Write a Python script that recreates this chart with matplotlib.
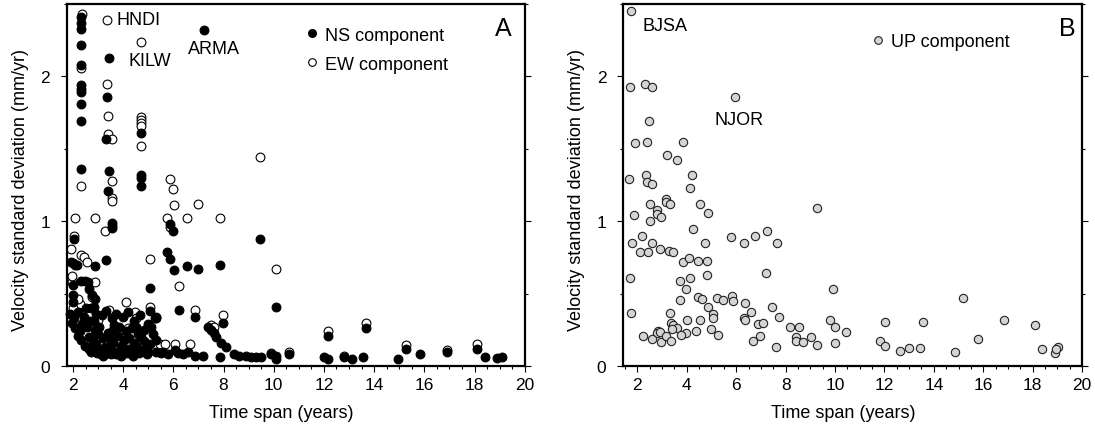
import matplotlib
matplotlib.use("Agg")
import matplotlib.pyplot as plt
from matplotlib.ticker import MultipleLocator
from matplotlib.lines import Line2D

plt.rcParams['font.family'] = ['Liberation Sans', 'DejaVu Sans']

# ---------------- Panel A data ----------------
ns_x = [2.31, 2.31, 2.31, 2.31, 2.31, 2.31, 2.31, 2.31, 2.31, 2.31, 2.31,
        3.44, 3.37, 3.30, 3.43, 3.40, 3.54, 3.54, 3.54,
        4.73, 4.73, 4.73, 4.73, 7.24,
        5.85, 5.98, 9.45, 2.04, 1.91, 2.00, 2.10, 2.15, 2.88, 3.31, 5.75, 5.85,
        6.02, 6.54, 6.98, 7.84, 10.09, 5.06, 2.31, 2.48, 2.60, 2.00, 2.65, 2.01,
        2.01, 2.75, 2.88, 6.21, 5.06, 6.85, 5.32, 7.97, 2.50, 2.70, 2.85,
        # dense cluster
        1.88, 2.05, 2.22, 2.45, 2.66, 2.90, 3.15, 3.32, 3.55, 3.72, 3.98, 4.20, 4.42, 4.66, 5.26,
        1.98, 2.35, 2.85, 3.62, 4.52, 5.00,
        2.10, 2.30, 2.55, 2.88, 3.05, 3.38, 3.60, 3.85, 4.10, 4.35, 4.60, 4.85, 5.12,
        2.20, 2.62, 2.98, 3.42, 3.80, 4.22, 4.72, 5.20,
        2.32, 2.78, 3.18, 3.58, 4.02, 4.42, 4.82, 5.30,
        2.48, 2.90, 3.28, 3.52, 3.90, 4.18, 4.52, 4.90, 5.06,
        2.62, 3.02, 3.32, 3.65, 3.95, 4.32, 4.62, 5.00,
        2.70, 2.95, 3.10, 3.38, 3.72, 4.10, 4.30, 4.62, 4.95, 5.30, 5.60, 6.05, 6.60,
        3.20, 3.50, 3.90, 4.40, 5.50, 5.80, 6.20, 6.40,
        # right part
        7.40, 7.50, 7.60, 7.70, 7.90, 8.10, 7.84, 8.40, 8.60, 8.90, 9.30, 6.85, 7.20,
        9.10, 9.50, 9.90, 10.10, 10.10, 10.60, 12.16, 12.00, 12.16, 12.80, 13.10,
        13.55, 13.66, 14.95, 15.25, 15.84, 16.90, 18.09, 18.40, 18.88, 19.08]
ns_y = [2.41, 2.37, 2.33, 2.22, 2.08, 1.94, 1.91, 1.89, 1.81, 1.69, 1.36,
        2.13, 1.86, 1.57, 1.35, 1.21, 0.99, 0.97, 0.95,
        1.61, 1.32, 1.30, 1.24, 2.32,
        0.98, 0.93, 0.88, 0.88, 0.72, 0.71, 0.70, 0.70, 0.69, 0.73, 0.79, 0.74,
        0.66, 0.69, 0.67, 0.70, 0.41, 0.54, 0.59, 0.59, 0.58, 0.56, 0.53, 0.49,
        0.44, 0.49, 0.46, 0.39, 0.38, 0.34, 0.34, 0.30, 0.40, 0.40, 0.41,
        0.36, 0.33, 0.37, 0.34, 0.31, 0.36, 0.35, 0.38, 0.33, 0.36, 0.34, 0.37, 0.31, 0.35, 0.33,
        0.30, 0.29, 0.31, 0.28, 0.27, 0.29,
        0.26, 0.24, 0.27, 0.25, 0.27, 0.23, 0.25, 0.27, 0.24, 0.26, 0.22, 0.25, 0.27,
        0.21, 0.20, 0.22, 0.20, 0.21, 0.19, 0.20, 0.22,
        0.18, 0.17, 0.19, 0.16, 0.18, 0.16, 0.17, 0.18,
        0.14, 0.15, 0.13, 0.15, 0.14, 0.12, 0.14, 0.13, 0.15,
        0.12, 0.11, 0.12, 0.10, 0.12, 0.10, 0.11, 0.10,
        0.10, 0.09, 0.08, 0.09, 0.08, 0.09, 0.08, 0.09, 0.08, 0.10, 0.10, 0.11, 0.10,
        0.07, 0.08, 0.07, 0.07, 0.09, 0.08, 0.09, 0.08,
        0.27, 0.25, 0.23, 0.20, 0.16, 0.13, 0.06, 0.08, 0.07, 0.07, 0.065, 0.07, 0.07,
        0.06, 0.06, 0.08, 0.07, 0.05, 0.08, 0.21, 0.06, 0.05, 0.06, 0.05,
        0.06, 0.26, 0.05, 0.12, 0.08, 0.10, 0.12, 0.065, 0.055, 0.065]

ew_x = [2.35, 3.34, 4.73, 2.31, 3.34, 3.40, 4.73, 4.73, 4.73, 4.73, 3.40, 3.56,
        4.73, 9.45, 5.85, 3.54, 2.31, 5.98, 3.54, 3.54, 6.02, 6.98, 2.08, 2.88,
        3.27, 5.75, 6.55, 7.84, 5.85, 2.04, 1.91, 2.31, 2.44, 2.57, 5.06, 10.09,
        6.21, 1.95, 2.88, 2.75, 2.28, 2.00, 4.11, 3.44, 4.46, 5.06, 6.85, 7.97,
        7.50, 7.60, 10.60, 9.90, 12.16, 13.66, 15.25, 16.90, 18.09, 5.46, 5.65,
        6.05, 6.65, 12.80, 3.00, 4.50, 5.30, 1.95, 2.20, 4.20, 4.70, 2.40]
ew_y = [2.43, 2.39, 2.24, 2.06, 1.95, 1.73, 1.72, 1.70, 1.68, 1.66, 1.60, 1.57,
        1.52, 1.44, 1.29, 1.28, 1.24, 1.22, 1.16, 1.14, 1.11, 1.12, 1.02, 1.02,
        0.93, 1.02, 1.02, 1.02, 0.96, 0.90, 0.81, 0.77, 0.75, 0.72, 0.74, 0.67,
        0.55, 0.58, 0.58, 0.48, 0.43, 0.40, 0.44, 0.39, 0.37, 0.41, 0.39, 0.35,
        0.28, 0.27, 0.10, 0.09, 0.24, 0.30, 0.145, 0.11, 0.15, 0.15, 0.15,
        0.15, 0.15, 0.07, 0.32, 0.33, 0.33, 0.62, 0.46, 0.26, 0.23, 0.30]

# ---------------- Panel B data ----------------
up_x = [1.76, 1.72, 2.30, 2.61, 5.97, 2.47, 1.90, 2.39, 3.84, 3.20, 3.60, 1.67,
        2.33, 2.37, 2.61, 4.22, 4.11, 3.17, 2.50, 3.15, 3.31, 4.52, 2.79, 2.79,
        2.97, 1.87, 4.85, 2.50, 9.29, 4.27, 1.80, 2.17, 2.61, 2.10, 2.43, 2.90,
        3.28, 3.44, 4.72, 5.79, 6.33, 6.75, 7.23, 7.65, 3.84, 4.07, 4.45, 4.81,
        7.21, 1.72, 4.81, 4.14, 3.71, 3.95, 9.93, 3.74, 4.45, 4.62, 5.23, 5.48,
        5.83, 5.86, 4.85, 6.37, 6.60, 7.43, 1.76, 3.31, 5.05, 5.05, 4.99, 4.52,
        4.02, 6.33, 6.37, 7.74, 9.81, 3.37, 3.45, 3.60, 3.40, 6.90, 7.07, 8.19,
        8.55, 10.00, 4.38, 2.83, 2.78, 2.93, 3.98, 3.78, 5.28, 10.46, 2.23, 2.61,
        2.97, 3.17, 3.37, 6.98, 6.67, 8.44, 8.44, 8.71, 9.04, 9.26, 7.61, 10.00,
        15.16, 12.04, 11.83, 12.04, 12.65, 13.01, 13.43, 13.56, 14.87, 15.78,
        16.84, 18.09, 18.36, 18.90, 19.03, 18.95]
up_y = [2.45, 1.93, 1.95, 1.93, 1.86, 1.69, 1.54, 1.55, 1.55, 1.46, 1.42, 1.29,
        1.32, 1.27, 1.26, 1.32, 1.23, 1.15, 1.12, 1.13, 1.12, 1.12, 1.08, 1.05,
        1.03, 1.04, 1.06, 1.00, 1.09, 0.945, 0.85, 0.895, 0.85, 0.79, 0.79, 0.81,
        0.795, 0.79, 0.85, 0.89, 0.85, 0.895, 0.93, 0.85, 0.72, 0.745, 0.725, 0.725,
        0.645, 0.605, 0.63, 0.605, 0.585, 0.535, 0.535, 0.457, 0.474, 0.462, 0.467, 0.457,
        0.485, 0.45, 0.405, 0.435, 0.375, 0.405, 0.365, 0.365, 0.358, 0.33, 0.255, 0.317,
        0.317, 0.33, 0.317, 0.336, 0.317, 0.30, 0.28, 0.26, 0.255, 0.29, 0.30, 0.267,
        0.267, 0.267, 0.243, 0.24, 0.23, 0.232, 0.228, 0.216, 0.216, 0.237, 0.209, 0.186,
        0.163, 0.209, 0.172, 0.209, 0.175, 0.198, 0.175, 0.163, 0.198, 0.147, 0.129, 0.159,
        0.467, 0.306, 0.175, 0.14, 0.106, 0.124, 0.124, 0.306, 0.094, 0.186,
        0.317, 0.285, 0.117, 0.09, 0.133, 0.117]

xticks = [2, 4, 6, 8, 10, 12, 14, 16, 18, 20]
yticks = [0, 1, 2]

FS = 13
fig = plt.figure(figsize=(10.95, 4.35), dpi=100)
axA = fig.add_axes([0.0609, 0.1563, 0.4183, 0.8322])
axB = fig.add_axes([0.5690, 0.1563, 0.4192, 0.8322])


def style(ax, xmin):
    ax.set_xlim(xmin, 20)
    ax.set_ylim(0, 2.5)
    ax.set_xticks(xticks)
    ax.set_yticks(yticks)
    ax.xaxis.set_minor_locator(MultipleLocator(0.5))
    ax.yaxis.set_minor_locator(MultipleLocator(0.5))
    ax.tick_params(axis='both', which='both', direction='out', labelsize=12.5,
                   width=0.8, right=True, top=False)
    ax.tick_params(axis='x', pad=4)
    ax.tick_params(axis='y', pad=8)
    ax.tick_params(which='major', length=4)
    ax.tick_params(which='minor', length=2.5)
    for s in ax.spines.values():
        s.set_linewidth(1.6)
    ax.set_xlabel('Time span (years)', fontsize=FS)
    ax.set_ylabel('Velocity standard deviation (mm/yr)', fontsize=FS)


style(axA, 1.75)
style(axB, 1.42)
axA.xaxis.set_label_coords(0.468, -0.105)
axB.xaxis.set_label_coords(0.479, -0.105)
axA.yaxis.set_label_coords(-0.082, 0.49)
axB.yaxis.set_label_coords(-0.082, 0.49)

axA.scatter(ew_x, ew_y, s=40, facecolor='white', edgecolor='black', linewidth=0.8, zorder=2, clip_on=False)
axA.scatter(ns_x, ns_y, s=40, facecolor='black', edgecolor='black', linewidth=0.8, zorder=3, clip_on=False)
axB.scatter(up_x, up_y, s=36, facecolor='#d4d4d4', edgecolor='#222222', linewidth=0.8, zorder=3, clip_on=False)

axA.text(3.74, 2.39, 'HNDI', fontsize=FS, va='center', ha='left')
axA.text(4.20, 2.11, 'KILW', fontsize=FS, va='center', ha='left')
axA.text(6.58, 2.19, 'ARMA', fontsize=FS, va='center', ha='left')
axA.text(0.954, 0.935, 'A', transform=axA.transAxes, fontsize=18, ha='center', va='center')

axB.text(2.20, 2.35, 'BJSA', fontsize=FS, va='center', ha='left')
axB.text(5.12, 1.70, 'NJOR', fontsize=FS, va='center', ha='left')
axB.text(0.967, 0.935, 'B', transform=axB.transAxes, fontsize=18, ha='center', va='center')

hA = [Line2D([], [], ls='none', marker='o', markersize=5.5, markerfacecolor='black', markeredgecolor='black'),
      Line2D([], [], ls='none', marker='o', markersize=5.5, markerfacecolor='white', markeredgecolor='black', markeredgewidth=0.8)]
axA.legend(hA, ['NS component', 'EW component'], loc='upper left', bbox_to_anchor=(0.50, 0.957),
           frameon=False, fontsize=FS, handletextpad=0.2, labelspacing=0.65, handlelength=1.0,
           borderaxespad=0.0)
hB = [Line2D([], [], ls='none', marker='o', markersize=5.5, markerfacecolor='#d4d4d4', markeredgecolor='#222222', markeredgewidth=0.8)]
axB.legend(hB, ['UP component'], loc='upper left', bbox_to_anchor=(0.521, 0.94),
           frameon=False, fontsize=FS, handletextpad=0.2, handlelength=1.0, borderaxespad=0.0)

fig.savefig('out.png', dpi=100)
